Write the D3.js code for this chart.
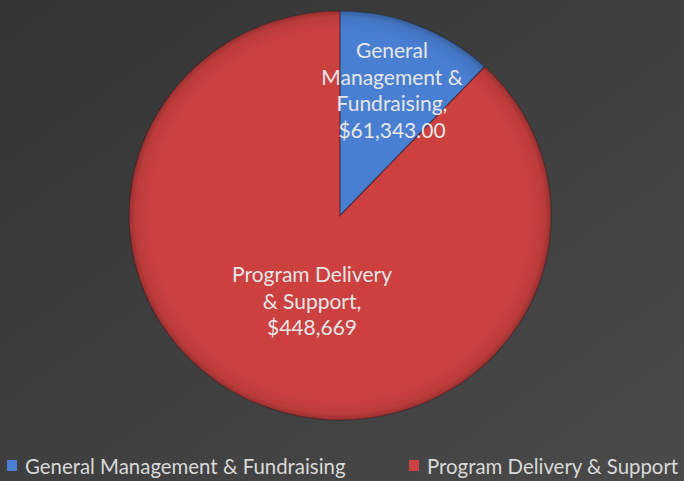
<!DOCTYPE html>
<html><head><meta charset="utf-8">
<script src="https://cdn.jsdelivr.net/npm/d3@7"></script>
<style>html,body{margin:0;padding:0;background:#3c3c3c;}svg{display:block;}</style>
</head><body>
<script>
const categories = ["General Management & Fundraising", "Program Delivery & Support"];
const values = [61343, 448669];
const labelLines = [["General", "Management &", "Fundraising,", "$61,343.00"], ["Program Delivery", "& Support,", "$448,669"]];
const colors = ["#4a7fd2", "#cc4141"];

const W = 684, H = 481;
const svg = d3.select("body").append("svg").attr("width", W).attr("height", H);
const defs = svg.append("defs");

const bg = defs.append("linearGradient").attr("id","bg").attr("x1","0").attr("y1","0").attr("x2","1").attr("y2","1");
bg.append("stop").attr("offset","0").attr("stop-color","#343434");
bg.append("stop").attr("offset","1").attr("stop-color","#4a4a4a");
svg.append("rect").attr("width",W).attr("height",H).attr("fill","url(#bg)");

const sh = defs.append("filter").attr("id","sh").attr("x","-20%").attr("y","-20%").attr("width","140%").attr("height","140%");
sh.append("feGaussianBlur").attr("in","SourceAlpha").attr("stdDeviation",3);
sh.append("feOffset").attr("dx",0).attr("dy",3).attr("result","b");
sh.append("feFlood").attr("flood-color","#000").attr("flood-opacity",0.55);
sh.append("feComposite").attr("in2","b").attr("operator","in");
const m = sh.append("feMerge"); m.append("feMergeNode"); m.append("feMergeNode").attr("in","SourceGraphic");

const bev = defs.append("radialGradient").attr("id","bev").attr("cx","0.5").attr("cy","0.5").attr("r","0.5");
bev.append("stop").attr("offset","0.9").attr("stop-color","#000").attr("stop-opacity",0);
bev.append("stop").attr("offset","0.97").attr("stop-color","#000").attr("stop-opacity",0.08);
bev.append("stop").attr("offset","1").attr("stop-color","#000").attr("stop-opacity",0.25);

const cx = 340, cy = 215.5, rx = 211, ry = 204.5;
const pie = d3.pie().sort(null).value(d => d);
const arcs = pie(values);
const arc = d3.arc().innerRadius(0).outerRadius(1);

const g = svg.append("g").attr("transform", `translate(${cx},${cy}) scale(${rx},${ry})`);
const gs = g.append("g").attr("filter","url(#sh)");
gs.selectAll("path.s").data(arcs).join("path").attr("class","s")
  .attr("d", arc).attr("fill", (d,i) => colors[i]);
g.append("circle").attr("r",1).attr("fill","url(#bev)");
g.selectAll("path.e").data(arcs).join("path").attr("class","e")
  .attr("d", arc).attr("fill","none").attr("stroke","rgba(0,0,0,0.25)").attr("stroke-width",1.2/rx);

const labelPos = [[392, 58], [312, 282]];
const lh = 26.5;
labelLines.forEach((lines, i) => {
  const t = svg.append("text").attr("text-anchor","middle")
    .attr("font-family","Lato, 'Open Sans', sans-serif").attr("font-size",21)
    .attr("fill","#e6e6e6");
  lines.forEach((l, j) => t.append("tspan").attr("x", labelPos[i][0]).attr("y", labelPos[i][1] + j*lh).text(l));
});

const legX = [7, 409];
categories.forEach((c, i) => {
  svg.append("rect").attr("x", legX[i]).attr("y", 460).attr("width", 10).attr("height", 11).attr("fill", colors[i]);
  svg.append("text").attr("x", legX[i] + 18).attr("y", 474)
    .attr("font-family","Lato, 'Open Sans', sans-serif").attr("font-size",20.4)
    .attr("fill","#d9d9d9").text(c);
});
</script>
</body></html>
